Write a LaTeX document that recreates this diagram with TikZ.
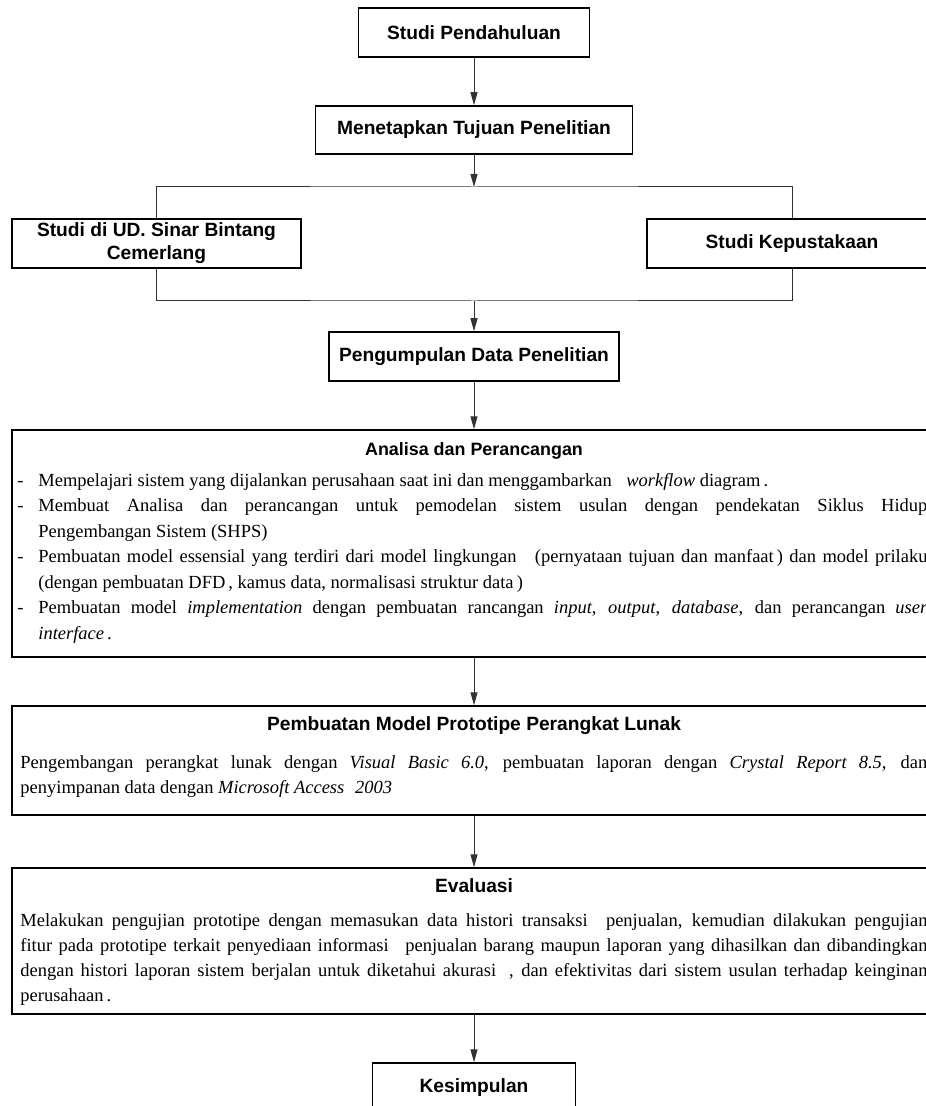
\documentclass[tikz,border=0pt]{standalone}
\usepackage{fontspec}
\setmainfont{Liberation Serif}
\newfontfamily\titlesans{Liberation Sans}
\usetikzlibrary{arrows.meta}
\tikzset{
  stepbox/.style={rectangle, draw=black, line width=0.75pt, inner sep=0pt,
                  align=center, font=\titlesans\bfseries\fontsize{9.6}{11.5}\selectfont},
  bigbox/.style={rectangle, draw=black, line width=0.75pt, minimum width=462pt},
  boxtitle/.style={anchor=base, inner sep=0pt,
                   font=\titlesans\bfseries\fontsize{9.6}{9}\selectfont},
  bodytext/.style={anchor=base west, inner sep=0pt, text width=453.5pt,
                   align=justify, execute at begin node=\sloppy,
                   font=\fontsize{9.25}{12.5}\selectfont},
  link/.style={draw=black!80, line width=0.5pt},
  arrow/.style={link, -{Triangle[length=6.5pt, width=3.5pt]}},
}
\newcommand{\butir}{\hangindent=10.5pt\hangafter=1\noindent\makebox[10.5pt][l]{-}}

\begin{document}
\begin{tikzpicture}[x=0.5pt, y=-0.5pt]
  \useasboundingbox (0,0) rectangle (925,1106);
  % tahap awal
  \node[stepbox, minimum width=115.5pt, minimum height=24.5pt] (pendahuluan) at (474,32.5) {Studi Pendahuluan};
  \node[stepbox, minimum width=158.5pt, minimum height=24pt] (tujuan) at (474,130) {Menetapkan Tujuan Penelitian};
  \node[stepbox, minimum width=144.5pt, minimum height=24.5pt] (lapangan) at (156.5,243.5) {Studi di UD. Sinar Bintang\\Cemerlang};
  \node[stepbox, minimum width=145pt, minimum height=24.5pt] (pustaka) at (792,243.5) {Studi Kepustakaan};
  \node[stepbox, minimum width=145pt, minimum height=24.5pt] (pengumpulan) at (474,356.5) {Pengumpulan Data Penelitian};
  \coordinate (cabang) at (474,187);
  \coordinate (gabung) at (474,301);

  % kotak besar
  \node[bigbox, minimum height=113.5pt] (analisa) at (474,543.5) {};
  \node[boxtitle, font=\titlesans\bfseries\fontsize{8.95}{9}\selectfont] (analisajudul) at (474,455) {Analisa dan Perancangan};
  \node[bodytext, text width=455pt, font=\fontsize{9.25}{12.75}\selectfont] (analisaisi) at (17,486) {%
    \butir Mempelajari sistem yang dijalankan perusahaan saat ini dan menggambarkan\hspace{5pt} \textit{workflow} diagram\,.\par
    \butir Membuat Analisa dan perancangan untuk pemodelan sistem usulan dengan pendekatan Siklus Hidup\linebreak Pengembangan Sistem (SHPS)\par
    \butir Pembuatan model essensial yang terdiri dari model lingkungan\hspace{6pt} (pernyataan tujuan dan manfaat\,) dan model prilaku\linebreak (dengan pembuatan DFD\,, kamus data, normalisasi struktur data\,)\par
    \butir Pembuatan model \textit{implementation} dengan pembuatan rancangan \textit{input}, \textit{output}, \textit{database}, dan perancangan \textit{user}\linebreak \textit{interface}\,.\par};

  \node[bigbox, minimum height=54.5pt] (prototipe) at (474,760.5) {};
  \node[boxtitle] (prototipejudul) at (474,730) {Pembuatan Model Prototipe Perangkat Lunak};
  \node[bodytext] (prototipeisi) at (20,768) {%
    Pengembangan perangkat lunak dengan \textit{Visual Basic 6.0}, pembuatan laporan dengan \textit{Crystal Report 8.5}, dan\linebreak penyimpanan data dengan \textit{Microsoft Access\hspace{3pt} 2003}\par};

  \node[bigbox, minimum height=73pt] (evaluasi) at (474,941) {};
  \node[boxtitle] (evaluasijudul) at (474,892) {Evaluasi};
  \node[bodytext] (evaluasiisi) at (20,926) {%
    Melakukan pengujian prototipe dengan memasukan data histori transaksi\hspace{5pt} penjualan, kemudian dilakukan pengujian\linebreak
    fitur pada prototipe terkait penyediaan informasi\hspace{5pt} penjualan barang maupun laporan yang dihasilkan dan dibandingkan\linebreak
    dengan histori laporan sistem berjalan untuk diketahui akurasi\hspace{3pt} , dan efektivitas dari sistem usulan terhadap keinginan\linebreak
    perusahaan\,.\par};

  \node[stepbox, minimum width=101.5pt, minimum height=24.5pt] (kesimpulan) at (474,1087.5) {Kesimpulan};

  % panah
  \draw[arrow] (pendahuluan) -- (tujuan);
  \draw[arrow] (tujuan) -- (cabang);
  \draw[link] (lapangan.north) |- (cabang) -| (pustaka.north);
  \draw[link] (lapangan.south) |- (gabung) -| (pustaka.south);
  \draw[arrow] (gabung) -- (pengumpulan);
  \draw[arrow] (pengumpulan) -- (analisa);
  \draw[arrow] (analisa) -- (prototipe);
  \draw[arrow] (prototipe) -- (evaluasi);
  \draw[arrow] (evaluasi) -- (kesimpulan);
\end{tikzpicture}
\end{document}
